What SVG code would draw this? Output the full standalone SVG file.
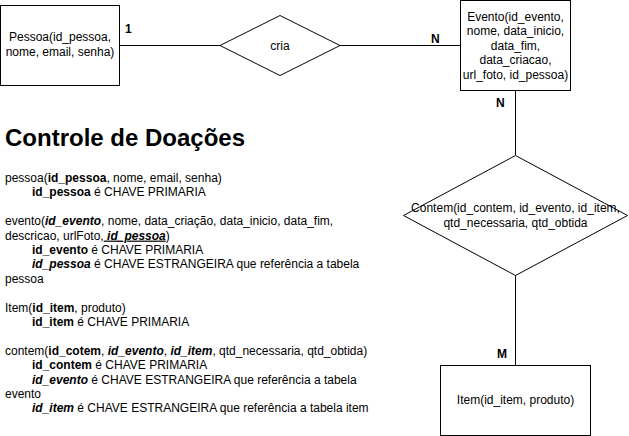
<svg xmlns="http://www.w3.org/2000/svg" width="629" height="436" viewBox="0 0 629 436">
<style>
.s{fill:#fff;stroke:#000;stroke-width:1}
.l{fill:none;stroke:#000;stroke-width:1}
text{font-family:"Liberation Sans",Arial,sans-serif;font-size:12px;fill:#000}
.c{text-anchor:middle}
.b{font-weight:bold}
.i{font-style:italic;font-weight:bold}
.t{font-size:24px;font-weight:bold}
</style>
<rect width="629" height="436" fill="#fff"/>
<g id="connectors">
<path class="l" d="M119.5 45.5H220"/>
<path class="l" d="M340 45.5H460"/>
<path class="l" d="M515.5 90V155"/>
<path class="l" d="M515.5 275V365"/>
<text class="b" x="125" y="33">1</text>
<text class="b" x="431" y="43">N</text>
<text class="b" x="496" y="107">N</text>
<text class="b" x="497" y="358">M</text>
</g>
<g id="pessoa">
<rect class="s" x="0.5" y="5.5" width="119" height="80"/>
<text class="c" x="60" y="41">Pessoa(id_pessoa,</text>
<text class="c" x="60" y="55.5">nome, email, senha)</text>
</g>
<g id="cria">
<path class="s" d="M220 45.5L280 15.5L340 45.5L280 75.5Z"/>
<text class="c" x="280" y="49.5">cria</text>
</g>
<g id="evento">
<rect class="s" x="460.5" y="0.5" width="110" height="90"/>
<text class="c" x="515.5" y="20.5">Evento(id_evento,</text>
<text class="c" x="515.5" y="35">nome, data_inicio,</text>
<text class="c" x="515.5" y="49.5">data_fim,</text>
<text class="c" x="515.5" y="64">data_criacao,</text>
<text class="c" x="515.5" y="78.5">url_foto, id_pessoa)</text>
</g>
<g id="contem">
<path class="s" d="M403.5 215.5L515.5 155.5L627.5 215.5L515.5 275.5Z"/>
<text class="c" x="515.5" y="212">Contem(id_contem, id_evento, id_item,</text>
<text class="c" x="515.5" y="226.5">qtd_necessaria, qtd_obtida</text>
</g>
<g id="item">
<rect class="s" x="440.5" y="365.5" width="150" height="70"/>
<text class="c" x="515.5" y="404">Item(id_item, produto)</text>
</g>
<g id="notes">
<text class="t" x="5" y="146">Controle de Doações</text>
<text x="5" y="182">pessoa(<tspan class="b">id_pessoa</tspan>, nome, email, senha)</text>
<text x="32" y="196.4"><tspan class="b">id_pessoa</tspan> é CHAVE PRIMARIA</text>
<text x="5" y="225.2">evento(<tspan class="i">id_evento</tspan>, nome, data_criação, data_inicio, data_fim,</text>
<text x="5" y="239.6">descricao, urlFoto,<tspan class="i" text-decoration="underline"> id_pessoa</tspan>)</text>
<text x="32" y="254"><tspan class="b">id_evento</tspan> é CHAVE PRIMARIA</text>
<text x="32" y="268.4"><tspan class="i">id_pessoa</tspan> é CHAVE ESTRANGEIRA que referência a tabela</text>
<text x="5" y="282.8">pessoa</text>
<text x="5" y="311.6">Item(<tspan class="b">id_item</tspan>, produto)</text>
<text x="32" y="326"><tspan class="b">id_item</tspan> é CHAVE PRIMARIA</text>
<text x="5" y="354.8">contem(<tspan class="b">id_cotem</tspan>, <tspan class="i">id_evento</tspan>, <tspan class="i">id_item</tspan>, qtd_necessaria, qtd_obtida)</text>
<text x="32" y="369.2"><tspan class="b">id_contem</tspan> é CHAVE PRIMARIA</text>
<text x="32" y="383.6"><tspan class="i">id_evento</tspan> é CHAVE ESTRANGEIRA que referência a tabela</text>
<text x="5" y="398">evento</text>
<text x="32" y="412.4"><tspan class="i">id_item</tspan> é CHAVE ESTRANGEIRA que referência a tabela item</text>
</g>
</svg>
